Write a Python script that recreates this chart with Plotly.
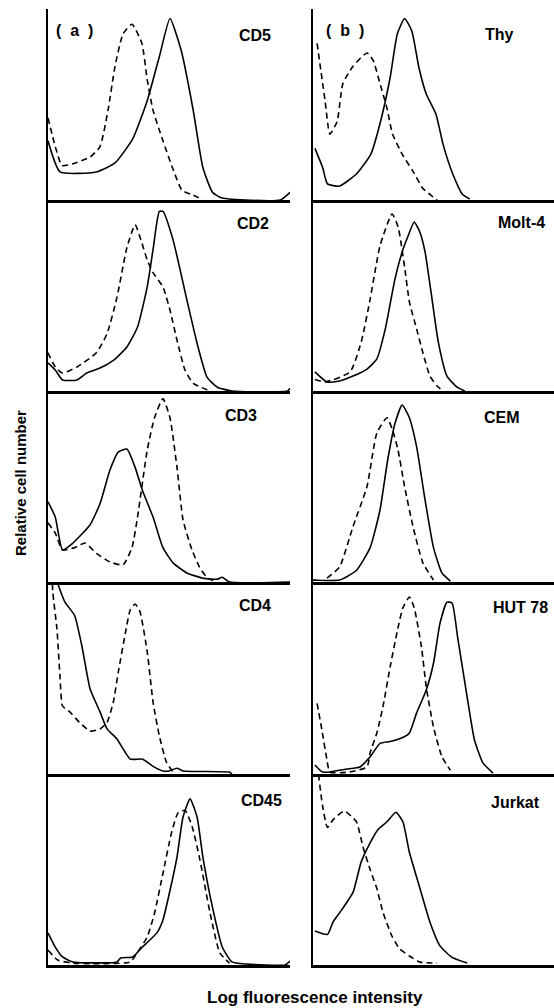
import plotly.graph_objects as go

# ---------------- data (x: log fluorescence 0-100, y: relative cell number 0-100) -----------
PANEL_LABELS = ["CD5", "Thy", "CD2", "Molt-4", "CD3", "CEM", "CD4", "HUT 78", "CD45", "Jurkat"]
X_TITLE = "Log fluorescence intensity"
Y_TITLE = "Relative cell number"

CD5_SOLID_X = [0, 5, 20, 27.7, 35, 41, 46, 50.4, 55, 60, 64, 68, 72, 96, 100]
CD5_SOLID_Y = [31, 14.7, 14.7, 19.4, 32, 52, 75, 95, 78.5, 47, 17, 4, 1, 0, 4]
CD5_DASH_X = [0, 3, 5.8, 10.3, 17.4, 21.5, 24.8, 27.7, 31, 34.7, 38.8, 41, 43.4, 47.5, 51.7, 55.4, 60, 64]
CD5_DASH_Y = [43, 28, 18, 19, 22.5, 28, 47, 70, 87, 92, 82, 63, 47, 31, 16, 5, 2.6, 0]

THY_SOLID_X = [0.8, 4, 6, 11, 18, 24, 28, 32, 35, 38, 41, 44, 47, 51, 54, 58, 62, 65]
THY_SOLID_Y = [27, 17, 8.4, 7.3, 13.6, 24, 41, 64, 87, 95, 88.5, 69, 55.5, 45, 29, 13.6, 3, 0.5]
THY_DASH_X = [1.7, 5, 7, 10, 12.4, 16.6, 22.4, 25, 27.8, 30.7, 33, 37, 41.5, 45.6, 48.5, 51.5]
THY_DASH_Y = [82, 52, 34.5, 41, 61, 70, 77, 73, 61, 48, 34.5, 24, 15, 6, 3, 0]

CD2_SOLID_X = [0, 3, 6, 12, 16, 21.5, 27, 32.6, 37, 41, 43.4, 46, 47.5, 51.7, 57.4, 61.6, 65.7, 70, 76, 99, 100]
CD2_SOLID_Y = [14.7, 11, 5.8, 5.8, 9.4, 12, 16, 23, 33.5, 54.5, 74, 94, 94, 79, 47.6, 25, 7.3, 2, 0, 0, 1.5]
CD2_DASH_X = [0, 3, 6, 12, 20, 24.4, 28.5, 32.6, 36, 38.8, 41, 43.4, 47.5, 50.4, 53.3, 56.6, 60, 67]
CD2_DASH_Y = [20, 12.6, 9.4, 12.6, 20, 30, 49, 75, 87, 77.5, 68.6, 62, 54.5, 42.4, 26.7, 11, 4, 0]

MOLT4_SOLID_X = [0.8, 5.8, 11, 16.6, 22.4, 26.5, 30, 34, 37, 39.4, 42, 44.4, 46.5, 49.4, 52, 55.6, 59.8, 63]
MOLT4_SOLID_Y = [10, 4.7, 5.2, 7.8, 11.5, 16.8, 32.5, 58.6, 72.8, 81, 88.5, 83, 72.8, 48, 25.6, 7.8, 2, 0]
MOLT4_DASH_X = [0.8, 5, 15.4, 20, 23.7, 27.8, 32.8, 35.3, 38, 40, 43, 45.6, 48.5, 51.5, 54]
MOLT4_DASH_Y = [6, 4.7, 10, 25.6, 48, 76, 92.7, 86, 65, 46.6, 32.5, 20, 7.8, 2.6, 0]

CD3_SOLID_X = [0, 3, 6, 10.3, 17.4, 21.5, 25.6, 29, 32.6, 36, 39, 43.4, 47.5, 51.7, 57.4, 64, 70, 72, 75, 100]
CD3_SOLID_Y = [42, 34, 16.8, 20.4, 30, 41, 58.6, 68, 69.6, 60, 48, 34, 18, 10, 4.7, 2, 1.5, 2.5, 0, 0]
CD3_DASH_X = [0, 3, 6, 11, 15.3, 20, 25.6, 31, 34.7, 37, 41, 44, 47.5, 50.4, 53.3, 55.8, 59.5, 62.8, 66, 70]
CD3_DASH_Y = [31, 25.6, 16.8, 18, 20.4, 15, 10.5, 9, 18, 34, 69, 86, 96, 86, 60, 32.5, 16.8, 7.3, 2, 0]

CEM_SOLID_X = [0, 0.8, 11, 18, 23.7, 27.8, 31, 34, 37, 40, 43, 46.5, 50, 53.5, 57]
CEM_SOLID_Y = [1, 1, 1, 6, 18, 37.7, 64, 83, 92.7, 86, 70.7, 43, 18, 4.7, 0.5]
CEM_DASH_X = [5.8, 11, 16.6, 22.4, 26.5, 30.7, 33, 35.3, 38, 41.5, 45.6, 50]
CEM_DASH_Y = [2, 7.8, 29, 50, 78, 86, 79.6, 69, 50, 29, 10, 1]

CD4_SOLID_X = [2.5, 4, 7, 11, 14, 17.4, 21.5, 24.4, 28.5, 34, 39, 43.4, 47.5, 50, 53.3, 55.8, 75, 76]
CD4_SOLID_Y = [110, 100, 90, 83, 67, 44.5, 32.5, 23.6, 18.3, 7.8, 7.8, 4, 1.6, 1.6, 3, 1.6, 1, 0]
CD4_DASH_X = [1.5, 2, 3.7, 5, 6, 9, 13, 17.4, 21.5, 24.4, 27, 29, 32, 34, 36, 38, 41, 43.4, 46, 49, 51.7]
CD4_DASH_Y = [110, 95, 76, 50, 35.6, 32.5, 27, 22.5, 23.6, 27, 37.7, 53, 74, 86, 89, 85, 64, 37.7, 20, 6, 1]

HUT78_SOLID_X = [0.8, 4, 14, 19.5, 23.7, 27.8, 32, 37, 40, 43, 47, 50, 52.7, 55.6, 57.7, 60, 64, 67, 70.5, 74.7]
HUT78_SOLID_Y = [4.7, 1, 2.6, 3.7, 9, 16, 17, 19, 21.5, 32, 44, 58, 79, 90, 89.5, 71.7, 40, 17.8, 5.8, 0.5]
HUT78_DASH_X = [1.7, 3.7, 5.8, 7, 15, 22.4, 23.7, 26.5, 29, 32, 35, 37.3, 40, 42, 45, 47, 50, 53.5, 57]
HUT78_DASH_Y = [37, 23, 7.3, 1, 1, 3.7, 11, 21.5, 35, 56, 75, 87, 92.7, 87, 66.5, 45.5, 24.6, 9, 2]

CD45_SOLID_X = [0, 3, 6, 10.3, 28.5, 30, 35, 39, 45, 47.5, 50.4, 53.3, 55.8, 58.7, 61.6, 64, 68, 72, 76, 82, 98, 100]
CD45_SOLID_Y = [16.8, 9.4, 4.2, 1.6, 1.6, 3.7, 4.2, 9.4, 16.8, 23.6, 39, 56.5, 77.5, 87, 77.5, 56.5, 30, 9.4, 1.6, 0.5, 0, 2]
CD45_DASH_X = [0, 4, 10.3, 34, 36.8, 41, 44, 47.5, 51, 53.7, 56.6, 59.5, 62.8, 67, 71, 75]
CD45_DASH_Y = [7.8, 2.6, 1, 1.6, 6.3, 14.7, 27, 48, 69, 79.6, 81, 72.8, 55, 27, 6.3, 1]

JURKAT_SOLID_X = [0.8, 6, 8.3, 12, 16.6, 20, 23.7, 27, 30.7, 34.4, 37.3, 40, 44.4, 48.5, 52.7, 57.7, 64]
JURKAT_SOLID_Y = [17.8, 16, 22.5, 29, 38, 54, 64, 71, 75, 80, 75, 59, 40, 22.5, 10, 4, 1]
JURKAT_DASH_X = [1.8, 4, 6, 8.3, 13, 18, 20.7, 23.7, 26.5, 29, 32.8, 36, 40, 44.4, 51.5]
JURKAT_DASH_Y = [105, 83, 72, 76, 80.6, 75, 62, 50, 40, 27.7, 15, 8.4, 4.7, 1.5, 1]

SOLIDS = [(CD5_SOLID_X, CD5_SOLID_Y), (THY_SOLID_X, THY_SOLID_Y), (CD2_SOLID_X, CD2_SOLID_Y),
          (MOLT4_SOLID_X, MOLT4_SOLID_Y), (CD3_SOLID_X, CD3_SOLID_Y), (CEM_SOLID_X, CEM_SOLID_Y),
          (CD4_SOLID_X, CD4_SOLID_Y), (HUT78_SOLID_X, HUT78_SOLID_Y), (CD45_SOLID_X, CD45_SOLID_Y),
          (JURKAT_SOLID_X, JURKAT_SOLID_Y)]
DASHES = [(CD5_DASH_X, CD5_DASH_Y), (THY_DASH_X, THY_DASH_Y), (CD2_DASH_X, CD2_DASH_Y),
          (MOLT4_DASH_X, MOLT4_DASH_Y), (CD3_DASH_X, CD3_DASH_Y), (CEM_DASH_X, CEM_DASH_Y),
          (CD4_DASH_X, CD4_DASH_Y), (HUT78_DASH_X, HUT78_DASH_Y), (CD45_DASH_X, CD45_DASH_Y),
          (JURKAT_DASH_X, JURKAT_DASH_Y)]

# ---------------- layout geometry (pixels) ----------------
W, H = 554, 1008
COL_X = [(48, 290), (313, 554)]
BASELINES = [200, 391, 582, 774, 965]
ROW_H = 191
LABEL_RIGHT = [273, 516, 271, 547, 259, 522, 273, 550, 284, 542]
LABEL_Y = [36, 35, 223, 222, 415, 417, 605, 607, 800, 802]

def fx(px):
    return px / W

def fy(py):
    return 1 - py / H

FONT = "Liberation Sans, Arial, sans-serif"
fig = go.Figure()
layout = dict(width=W, height=H, autosize=False, margin=dict(l=0, r=0, t=0, b=0, pad=0),
              paper_bgcolor="white", plot_bgcolor="rgba(0,0,0,0)", showlegend=False)
annotations = []

for i in range(10):
    row, col = divmod(i, 2)
    k = i + 1
    xa = "x" if k == 1 else f"x{k}"
    ya = "y" if k == 1 else f"y{k}"
    xname = "xaxis" if k == 1 else f"xaxis{k}"
    yname = "yaxis" if k == 1 else f"yaxis{k}"
    x0, x1 = COL_X[col]
    base = BASELINES[row]
    top = base - ROW_H
    layout[xname] = dict(domain=[fx(x0), fx(x1)], range=[0, 100], anchor=ya,
                         showline=True, linecolor="black", linewidth=3,
                         showgrid=False, zeroline=False, showticklabels=False, ticks="",
                         fixedrange=True)
    layout[yname] = dict(domain=[fy(base), fy(top)], range=[0, 100], anchor=xa,
                         showline=True, linecolor="black", linewidth=1.6,
                         showgrid=False, zeroline=False, showticklabels=False, ticks="",
                         fixedrange=True)
    sx, sy = SOLIDS[i]
    dx, dy = DASHES[i]
    fig.add_trace(go.Scatter(x=dx, y=dy, xaxis=xa, yaxis=ya, mode="lines",
                             line=dict(color="black", width=1.6, dash="6px,4px",
                                       shape="spline", smoothing=0.5),
                             hoverinfo="skip"))
    fig.add_trace(go.Scatter(x=sx, y=sy, xaxis=xa, yaxis=ya, mode="lines",
                             line=dict(color="black", width=1.6, shape="spline", smoothing=0.5),
                             hoverinfo="skip"))
    annotations.append(dict(text=f"<b>{PANEL_LABELS[i]}</b>", xref="paper", yref="paper",
                            x=fx(LABEL_RIGHT[i]), y=fy(LABEL_Y[i]), xanchor="right", yanchor="middle",
                            showarrow=False, font=dict(family=FONT, size=16, color="black")))

annotations.append(dict(text="<b>(  a  )</b>", xref="paper", yref="paper", x=fx(54), y=fy(30),
                        xanchor="left", yanchor="middle", showarrow=False,
                        font=dict(family=FONT, size=16, color="black")))
annotations.append(dict(text="<b>(  b  )</b>", xref="paper", yref="paper", x=fx(324), y=fy(30),
                        xanchor="left", yanchor="middle", showarrow=False,
                        font=dict(family=FONT, size=16, color="black")))
annotations.append(dict(text=f"<b>{Y_TITLE}</b>", xref="paper", yref="paper", x=fx(20), y=fy(483),
                        xanchor="center", yanchor="middle", textangle=-90, showarrow=False,
                        font=dict(family=FONT, size=15, color="black")))
annotations.append(dict(text=f"<b>{X_TITLE}</b>", xref="paper", yref="paper", x=fx(315), y=fy(997),
                        xanchor="center", yanchor="middle", showarrow=False,
                        font=dict(family=FONT, size=17, color="black")))
layout["annotations"] = annotations
fig.update_layout(**layout)
fig.write_html("out.html", config={"displayModeBar": False},
               post_script="document.body.style.margin='0px';document.body.style.overflow='hidden';")
